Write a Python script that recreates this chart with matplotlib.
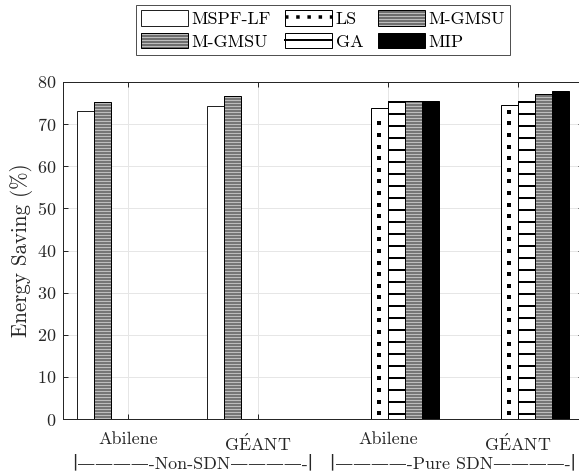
import numpy as np
import matplotlib
matplotlib.use('Agg')
import matplotlib.pyplot as plt
from matplotlib.lines import Line2D
from matplotlib.patches import Rectangle

# energy saving (%) per topology, for each routing scheme
groups = ['Abilene', r'G$\mathrm{\acute{E}}$ANT', 'Abilene', r'G$\mathrm{\acute{E}}$ANT']
methods = ['MSPF-LF', 'M-GMSU', 'LS', 'GA', 'M-GMSU', 'MIP']
mspf_lf = [73.0, 74.2, 0, 0]
m_gmsu_a = [75.2, 76.7, 0, 0]
ls = [0, 0, 73.8, 74.6]
ga = [0, 0, 75.5, 75.4]
m_gmsu_b = [0, 0, 75.5, 77.2]
mip = [0, 0, 75.6, 77.8]
yticks = [0, 10, 20, 30, 40, 50, 60, 70, 80]

plt.rcParams['font.family'] = 'serif'
plt.rcParams['font.serif'] = ['cmr10']
plt.rcParams['mathtext.fontset'] = 'cm'
plt.rcParams['axes.formatter.use_mathtext'] = True
plt.rcParams['font.size'] = 18

DPI = 72
fig = plt.figure(figsize=(579 / DPI, 476 / DPI), dpi=DPI)
ax = fig.add_axes([63 / 579, 57 / 476, 520 / 579, 337 / 476])

x = np.arange(1, len(groups) + 1)
w = 0.131
offs = (np.arange(6) - 2.5) * w

def hatched_bar(xpos, vals, face, hcol, hatch, hlw):
    with plt.rc_context({'hatch.linewidth': hlw}):
        b = ax.bar(xpos, vals, w, color=face, edgecolor=hcol, hatch=hatch,
                   linewidth=0, zorder=2)
    for p in b:
        if hasattr(p, 'set_hatch_linewidth'):
            p.set_hatch_linewidth(hlw)
    o = ax.bar(xpos, vals, w, color='none', edgecolor='black', linewidth=1.0, zorder=3)
    return b, o

handles = []
# MSPF-LF: plain white
h0 = ax.bar(x + offs[0], mspf_lf, w, color='white', edgecolor='#222222', linewidth=1.0, zorder=2)
handles.append(h0)
# M-GMSU (non-SDN): dense grey stripes
b1, o1 = hatched_bar(x + offs[1], m_gmsu_a, '#6e6e6e', '#bdbdbd', '----', 1.2)
handles.append((b1, o1))
# LS: white with a column of dots
h2 = ax.bar(x + offs[2], ls, w, color='white', edgecolor='black', linewidth=1.0, zorder=2)
dot_step = 2.75
for xi, v in zip(x + offs[2], ls):
    if v > 0:
        yd = np.arange(1.4, v - 1.0, dot_step)
        ax.scatter(np.full(len(yd), xi), yd, s=10, marker='s', color='black',
                   linewidths=0, zorder=3)
ls_key = Line2D([], [], color='black', linestyle=(0, (1, 2.2)), linewidth=3.5)
handles.append((Rectangle((0, 0), 1, 1, facecolor='white', edgecolor='black', linewidth=1.0), ls_key))
# GA: white with thick horizontal lines
b3, o3 = hatched_bar(x + offs[3], ga, 'white', 'black', '-', 2.0)
ga_key = Line2D([], [], color='black', linewidth=2.0)
handles.append((Rectangle((0, 0), 1, 1, facecolor='white', edgecolor='black', linewidth=1.0), ga_key))
# M-GMSU (pure SDN)
b4, o4 = hatched_bar(x + offs[4], m_gmsu_b, '#6e6e6e', '#bdbdbd', '----', 1.2)
handles.append((b4, o4))
# MIP: solid black
h5 = ax.bar(x + offs[5], mip, w, color='black', edgecolor='black', linewidth=1.0, zorder=2)
handles.append(h5)

ax.set_xlim(0.5, 4.5)
ax.set_ylim(0, 80)
ax.set_yticks(yticks)
ax.set_xticks(x)
ax.set_xticklabels(groups)
ax.grid(True, color='#e6e6e6', linewidth=1.0, zorder=0)
ax.set_axisbelow(True)
ax.tick_params(direction='in', top=True, right=True, length=5, width=1,
               color='#262626', labelsize=18, labelcolor='#262626')
ax.tick_params(axis='x', pad=13)
ax.tick_params(axis='y', pad=7)
for s in ax.spines.values():
    s.set_color('#262626')
    s.set_linewidth(1.0)
ax.set_ylabel('Energy Saving (%)', fontsize=21, color='#262626', labelpad=4)

# scenario brackets under the topology names
bar = '\u2223'
dash = '\u2014' * 4
for xc, name in [(1.5, 'Non-SDN'), (3.5, 'Pure SDN')]:
    ax.text(xc, -0.131, bar + dash + '-' + name + dash + '-' + bar,
            transform=ax.get_xaxis_transform(), ha='center', va='center',
            fontsize=18, color='#262626',
            family=['cmr10', 'DejaVu Serif', 'DejaVu Sans'])

fig.legend(handles, methods, ncol=3, loc='upper center',
           bbox_to_anchor=((63 + 583) / 2 / 579, 1 - 5 / 476),
           fontsize=18, frameon=True, fancybox=False, edgecolor='#262626',
           handlelength=2.6, handleheight=0.95, handletextpad=0.2,
           columnspacing=0.8, labelspacing=0.3, borderpad=0.3,
           borderaxespad=0)

fig.savefig('out.png', dpi=DPI)
